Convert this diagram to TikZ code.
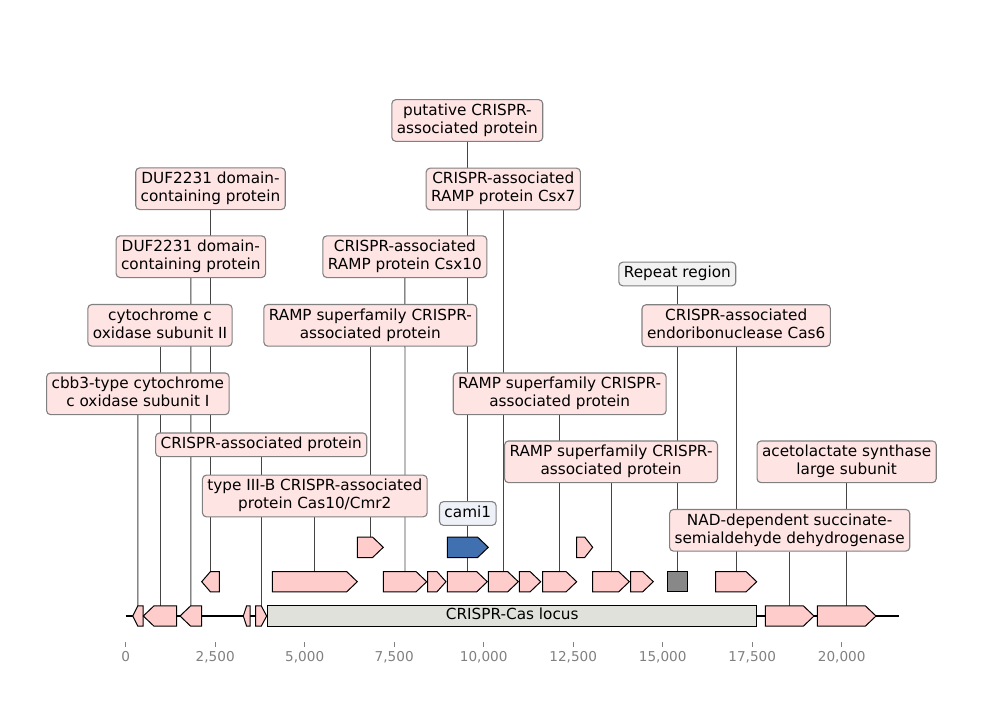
\documentclass[tikz,border=0pt]{standalone}
\usepackage{fontspec}
\setmainfont{DejaVu Sans}
\pgfdeclarelayer{bg}
\pgfsetlayers{bg,main}
\definecolor{featpink}{HTML}{FFCCCC}
\definecolor{labpink}{HTML}{FFE4E4}
\definecolor{labgray}{HTML}{F2F2F2}
\definecolor{labblue}{HTML}{EEF2F8}
\definecolor{boxline}{HTML}{808080}
\definecolor{featblue}{HTML}{4070B0}
\definecolor{featgray}{HTML}{888888}
\definecolor{locusfill}{HTML}{E1E1DC}
\definecolor{tickgray}{HTML}{808080}
\definecolor{annline}{HTML}{444444}
\newcommand\mystrut{\rule[-3.7pt]{0pt}{15.3pt}}
% name, x1, x2, y, style
\newcommand\fwd[5]{%
  \pgfmathsetmacro\hl{min(10.7,0.5*(#3-#2))}%
  \draw[feat,#5] (#2,#4-10.2) -- (#3-\hl,#4-10.2) -- (#3,#4) -- (#3-\hl,#4+10.2) -- (#2,#4+10.2) -- cycle;
  \coordinate (#1) at ({(#2+#3)/2},#4-10.2);
}
\newcommand\rev[5]{%
  \pgfmathsetmacro\hl{min(10.7,0.5*(#3-#2))}%
  \draw[feat,#5] (#2,#4) -- (#2+\hl,#4-10.2) -- (#3,#4-10.2) -- (#3,#4+10.2) -- (#2+\hl,#4+10.2) -- cycle;
  \coordinate (#1) at ({(#2+#3)/2},#4-10.2);
}
\newcommand\blk[5]{%
  \draw[feat,#5] (#2,#4-10.2) rectangle (#3,#4+10.2);
  \coordinate (#1) at ({(#2+#3)/2},#4-10.2);
}
\tikzset{
  feat/.style={draw=black, line width=1pt, fill=featpink, line join=miter},
  lab/.style={draw=boxline, fill=labpink, rounded corners=4pt, line width=1.1pt,
    align=center, font=\fontsize{15.28}{18}\selectfont, inner xsep=5pt, inner ysep=4.2pt},
  ann/.style={draw=annline, line width=0.8pt},
  ticklab/.style={anchor=base, font=\fontsize{13.6}{16}\selectfont, text=tickgray, inner sep=0pt},
}
\begin{document}
\begin{tikzpicture}[x=1pt,y=-1pt]
\useasboundingbox (0,0) rectangle (1000,720);
% backbone
\draw[line width=2pt] (125.7,616) -- (899.3,616);
% level 0
\def\yA{616}
\rev{f1}{132.7}{143}{\yA}{}
\rev{f2}{143.3}{176.7}{\yA}{}
\rev{f3}{180}{201.7}{\yA}{}
\rev{f4}{243.3}{250}{\yA}{}
\fwd{f5}{255.7}{266.7}{\yA}{}
\draw[feat,fill=locusfill] (267.7,\yA-10.2) rectangle (756.7,\yA+10.2);
\node[font=\fontsize{15.28}{18}\selectfont, inner sep=0pt] (locus) at (512.2,\yA) {\mystrut CRISPR-Cas locus};
\fwd{f7}{765.3}{814}{\yA}{}
\fwd{f8}{817.3}{876}{\yA}{}
% level 1
\def\yB{581.7}
\rev{f9}{201.7}{219.3}{\yB}{}
\fwd{f10}{272.3}{357.3}{\yB}{}
\fwd{f11}{383.3}{426.7}{\yB}{}
\fwd{f12}{427.7}{446}{\yB}{}
\fwd{f13}{447.3}{487.3}{\yB}{}
\fwd{f14}{488.3}{518.3}{\yB}{}
\fwd{f15}{519.3}{540.7}{\yB}{}
\fwd{f16}{542.7}{576.7}{\yB}{}
\fwd{f17}{592.7}{629.3}{\yB}{}
\fwd{f18}{630.7}{653.3}{\yB}{}
\blk{f19}{667.3}{687.3}{\yB}{fill=featgray}
\fwd{f20}{715.7}{756.7}{\yB}{}
% level 2
\def\yC{547.3}
\fwd{f21}{357.3}{383.3}{\yC}{}
\fwd{f22}{447.3}{488.3}{\yC}{fill=featblue}
\fwd{f23}{576.7}{592.7}{\yC}{}
% labels
\node[lab] (l13) at (467.3,120.5) {\mystrut putative CRISPR-\\\mystrut associated protein};
\node[lab] (l14) at (503.3,189) {\mystrut CRISPR-associated\\\mystrut RAMP protein Csx7};
\node[lab] (l9) at (210.5,188.7) {\mystrut DUF2231 domain-\\\mystrut containing protein};
\node[lab] (l3) at (190.85,256.7) {\mystrut DUF2231 domain-\\\mystrut containing protein};
\node[lab] (l11) at (404.85,256.7) {\mystrut CRISPR-associated\\\mystrut RAMP protein Csx10};
\node[lab,fill=labgray] (l19) at (677.3,274) {\mystrut Repeat region};
\node[lab] (l2) at (160,325.3) {\mystrut cytochrome c\\\mystrut oxidase subunit II};
\node[lab] (l21) at (370.3,325.3) {\mystrut RAMP superfamily CRISPR-\\\mystrut associated protein};
\node[lab] (l20) at (736.2,325.6) {\mystrut CRISPR-associated\\\mystrut endoribonuclease Cas6};
\node[lab] (l1) at (137.85,393.8) {\mystrut cbb3-type cytochrome\\\mystrut c oxidase subunit I};
\node[lab] (l16) at (559.7,393.8) {\mystrut RAMP superfamily CRISPR-\\\mystrut associated protein};
\node[lab] (l5) at (261.2,444.8) {\mystrut CRISPR-associated protein};
\node[lab] (l17) at (611,461.8) {\mystrut RAMP superfamily CRISPR-\\\mystrut associated protein};
\node[lab] (l8) at (846.65,461.8) {\mystrut acetolactate synthase\\\mystrut large subunit};
\node[lab] (l10) at (314.8,496) {\mystrut type III-B CRISPR-associated\\\mystrut protein Cas10/Cmr2};
\node[lab,fill=labblue] (l22) at (467.8,513.5) {\mystrut cami1};
\node[lab] (l7) at (789.65,530.3) {\mystrut NAD-dependent succinate-\\\mystrut semialdehyde dehydrogenase};
% annotation lines
\begin{pgfonlayer}{bg}
\foreach \n in {1,2,3,5,7,8,9,10,11,13,14,16,17,19,20,21,22}
  \draw[ann] (l\n) -- (f\n);
\end{pgfonlayer}
% axis ticks (values in thousands)
\foreach \v/\t [count=\i] in {0/0,2.5/{2,500},5/{5,000},7.5/{7,500},10/{10,000},12.5/{12,500},15/{15,000},17.5/{17,500},20/{20,000}}{
  \pgfmathsetmacro\tx{125.7+\v*35.8}
  \draw[tickgray, line width=0.8pt] (\tx,642) -- (\tx,646.5);
  \node[ticklab] (t\i) at (\tx,661.5) {\t};
}
\end{tikzpicture}
\end{document}
